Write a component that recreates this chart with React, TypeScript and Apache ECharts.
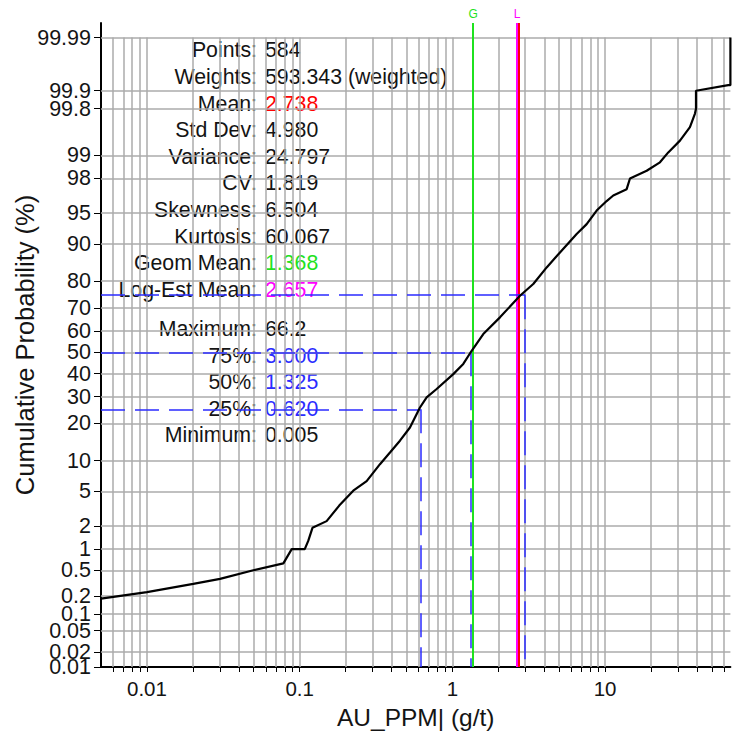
import React, { useEffect, useRef } from 'react';
import * as echarts from 'echarts';

// ---------- data ----------
const curveAu = [
  0.005, 0.01, 0.0201, 0.0301, 0.0497, 0.0782, 0.0887, 0.108, 0.1138, 0.1213, 0.1502,
  0.1816, 0.2244, 0.2746, 0.3357, 0.3903, 0.4537, 0.5277, 0.6135, 0.6786, 0.789, 1.014,
  1.179, 1.338, 1.594, 2.05, 2.772, 3.387, 4.146, 5.067, 6.516, 7.578, 8.81, 10.24, 11.32,
  13.85, 14.56, 18.73, 22.88, 25.94, 30.94, 35.97, 38.8, 39.4, 39.4, 64.1, 66.2, 66.2,
];
const curveProb = [
  0.18, 0.23, 0.31, 0.37, 0.5, 0.63, 1.0, 1.0, 1.29, 1.9, 2.3,
  3.5, 5.1, 6.4, 9.3, 11.8, 14.8, 18.7, 25.7, 29.7, 33.2, 39.8,
  44.5, 50.7, 58.5, 66.0, 74.8, 79.0, 84.2, 88.1, 91.9, 93.5, 95.3, 96.3, 96.8,
  97.3, 98.0, 98.4, 98.76, 99.09, 99.38, 99.61, 99.76, 99.8, 99.9, 99.92, 99.92, 99.99,
];

const yTickProbs = [0.01, 0.02, 0.05, 0.1, 0.2, 0.5, 1, 2, 5, 10, 20, 30, 40, 50, 60, 70, 80, 90, 95, 98, 99, 99.8, 99.9, 99.99];
const yTickLabels = ['0.01', '0.02', '0.05', '0.1', '0.2', '0.5', '1', '2', '5', '10', '20', '30', '40', '50', '60', '70', '80', '90', '95', '98', '99', '99.8', '99.9', '99.99'];
// labels that sit on a second, label-only axis so that overlapping neighbours both stay visible
const yAltLabelProbs = [0.02];
const xTickValues = [0.01, 0.1, 1, 10];
const xTickLabels = ['0.01', '0.1', '1', '10'];
const xMultipliers = [1, 2, 3, 4, 5, 6, 7, 8, 9];
const xDecades = [-3, -2, -1, 0, 1];

const statNames = ['Points:', 'Weights:', 'Mean:', 'Std Dev:', 'Variance:', 'CV:', 'Skewness:', 'Kurtosis:', 'Geom Mean:', 'Log-Est Mean:', 'Maximum:', '75%:', '50%:', '25%:', 'Minimum:'];
const statValues = ['584', '593.343 (weighted)', '2.738', '4.980', '24.797', '1.819', '6.504', '60.067', '1.368', '2.657', '66.2', '3.000', '1.325', '0.620', '0.005'];

const quartileProbs = [75, 50, 25];
const quartileValues = [3.0, 1.325, 0.62];
const geomMean = 1.368;
const logEstMean = 2.657;
const meanValue = 2.738;

const xMin = 0.005;
const xMax = 66.2;
const probMin = 0.01;
const probMax = 99.995;

// ---------- styles ----------
const FONT = '"Liberation Sans", Arial, sans-serif';
const TEXT_COLOR = '#141414';
const GRID_COLOR = '#ababab';
const BLUE = '#2b2bff';
const GREEN = '#1fe21f';
const MAGENTA = '#ff00ff';
const RED = '#ff0000';
const valueColors: Record<string, string> = {
  'Mean:': RED,
  'Geom Mean:': GREEN,
  'Log-Est Mean:': MAGENTA,
  '75%:': BLUE,
  '50%:': BLUE,
  '25%:': BLUE,
};

// inverse normal CDF (Acklam)
function probit(p: number): number {
  const a = [-3.969683028665376e1, 2.209460984245205e2, -2.759285104469687e2, 1.38357751867269e2, -3.066479806614716e1, 2.506628277459239];
  const b = [-5.447609879822406e1, 1.615858368580409e2, -1.556989798598866e2, 6.680131188771972e1, -1.328068155288572e1];
  const c = [-7.784894002430293e-3, -3.223964580411365e-1, -2.400758277161838, -2.549732539343734, 4.374664141464968, 2.938163982698783];
  const d = [7.784695709041462e-3, 3.224671290700398e-1, 2.445134137142996, 3.754408661907416];
  const pl = 0.02425;
  const ph = 1 - pl;
  if (p < pl) {
    const q = Math.sqrt(-2 * Math.log(p));
    return (((((c[0] * q + c[1]) * q + c[2]) * q + c[3]) * q + c[4]) * q + c[5]) / ((((d[0] * q + d[1]) * q + d[2]) * q + d[3]) * q + 1);
  }
  if (p > ph) {
    const q = Math.sqrt(-2 * Math.log(1 - p));
    return -(((((c[0] * q + c[1]) * q + c[2]) * q + c[3]) * q + c[4]) * q + c[5]) / ((((d[0] * q + d[1]) * q + d[2]) * q + d[3]) * q + 1);
  }
  const q = p - 0.5;
  const r = q * q;
  return ((((((a[0] * r + a[1]) * r + a[2]) * r + a[3]) * r + a[4]) * r + a[5]) * q) / (((((b[0] * r + b[1]) * r + b[2]) * r + b[3]) * r + b[4]) * r + 1);
}
const zOf = (pct: number) => probit(pct / 100);
const lx = (v: number) => Math.log10(v);

export default function App() {
  const ref = useRef<HTMLDivElement>(null);

  useEffect(() => {
    if (!ref.current) return;
    const chart = echarts.init(ref.current, undefined, { renderer: 'svg' });

    const X0 = lx(xMin);
    const X1 = lx(xMax);
    const Z0 = zOf(probMin);
    const Z1 = zOf(probMax);
    const zTop = zOf(yTickProbs[yTickProbs.length - 1]);

    const xGrid: number[] = [];
    xDecades.forEach((e) => {
      xMultipliers.forEach((m) => {
        const v = m * Math.pow(10, e);
        if (v > xMin * 1.0001 && v <= xMax) xGrid.push(lx(v));
      });
    });
    const yTicksZ = yTickProbs.map(zOf);
    const yMainLabelZ = yTickProbs.filter((p) => yAltLabelProbs.indexOf(p) < 0).map(zOf);
    const yAltLabelZ = yAltLabelProbs.map(zOf);
    const yFormatter = (v: number) => {
      const i = yTicksZ.findIndex((t) => Math.abs(t - v) < 1e-6);
      return i >= 0 ? yTickLabels[i] : '';
    };

    const gridLines: any[] = [];
    xGrid.forEach((x) => gridLines.push([{ coord: [x, Z0] }, { coord: [x, zTop] }]));
    yTicksZ.slice(1).forEach((z) => gridLines.push([{ coord: [X0, z] }, { coord: [X1, z] }]));

    const dashed: any[] = [];
    quartileProbs.forEach((p, i) => {
      const z = zOf(p);
      const x = lx(quartileValues[i]);
      dashed.push([{ coord: [X0, z] }, { coord: [x, z] }]);
      dashed.push([{ coord: [x, z] }, { coord: [x, Z0] }]);
    });

    const vLine = (v: number, color: string, text: string, z: number) => ({
      type: 'line',
      data: [[X0, Z0]],
      showSymbol: false,
      silent: true,
      z,
      markLine: {
        silent: true,
        symbol: ['none', 'none'],
        lineStyle: { color, width: 2, type: 'solid' },
        label: {
          show: text !== '',
          position: 'end',
          formatter: text,
          color,
          fontSize: 12,
          distance: 3,
          fontFamily: FONT,
        },
        emphasis: { disabled: true },
        data: [[{ coord: [lx(v), Z0] }, { coord: [lx(v), Z1] }]],
      },
    });

    const rowH = 26.6;
    const graphics: any[] = [];
    statNames.forEach((name, i) => {
      const y = 50.3 + i * rowH + (i >= 10 ? rowH * 0.48 : 0);
      graphics.push({
        type: 'text',
        x: 257,
        y,
        z: 2,
        silent: true,
        style: {
          text: name,
          fill: TEXT_COLOR,
          fontSize: 21.3,
          fontFamily: FONT,
          textAlign: 'right',
          textVerticalAlign: 'middle',
          align: 'right',
          verticalAlign: 'middle',
        },
      });
      graphics.push({
        type: 'text',
        x: 265,
        y,
        z: 2,
        silent: true,
        style: {
          text: statValues[i],
          fill: valueColors[name] || TEXT_COLOR,
          fontSize: 21.3,
          fontFamily: FONT,
          textAlign: 'left',
          textVerticalAlign: 'middle',
          align: 'left',
          verticalAlign: 'middle',
        },
      });
    });

    const yLabelStyle = {
      show: true,
      fontSize: 21.5,
      color: TEXT_COLOR,
      margin: 10,
      hideOverlap: false,
      showMinLabel: true,
      showMaxLabel: true,
      formatter: yFormatter,
    };

    const option: any = {
      animation: false,
      backgroundColor: '#ffffff',
      textStyle: { fontFamily: FONT },
      grid: { left: 101, right: 3.6, top: 23, bottom: 69, containLabel: false, outerBoundsMode: 'none' },
      xAxis: {
        type: 'value',
        min: X0,
        max: X1,
        name: 'AU_PPM| (g/t)',
        nameLocation: 'middle',
        nameGap: 38,
        nameMoveOverlap: false,
        nameTextStyle: { fontSize: 24.5, color: TEXT_COLOR, fontFamily: FONT },
        axisLine: { show: true, onZero: false, lineStyle: { color: '#000', width: 2 } },
        axisTick: { show: true, length: 5, lineStyle: { color: '#000', width: 1 }, customValues: xGrid },
        axisLabel: {
          show: true,
          fontSize: 20.5,
          color: TEXT_COLOR,
          margin: 11,
          hideOverlap: false,
          customValues: xTickValues.map(lx),
          formatter: (v: number) => {
            const i = xTickValues.findIndex((t) => Math.abs(lx(t) - v) < 1e-6);
            return i >= 0 ? xTickLabels[i] : '';
          },
        },
        splitLine: { show: false },
      },
      yAxis: [
        {
          type: 'value',
          min: Z0,
          max: Z1,
          position: 'left',
          name: 'Cumulative Probability (%)',
          nameLocation: 'middle',
          nameGap: 63,
          nameMoveOverlap: false,
          nameTextStyle: { fontSize: 25.5, color: TEXT_COLOR, fontFamily: FONT },
          axisLine: { show: true, onZero: false, lineStyle: { color: '#000', width: 2 } },
          axisTick: { show: true, length: 7, lineStyle: { color: '#000', width: 1 }, customValues: yTicksZ },
          axisLabel: { ...yLabelStyle, customValues: yMainLabelZ },
          splitLine: { show: false },
        },
        {
          type: 'value',
          min: Z0,
          max: Z1,
          position: 'left',
          offset: 0,
          axisLine: { show: false },
          axisTick: { show: false },
          axisLabel: { ...yLabelStyle, customValues: yAltLabelZ },
          splitLine: { show: false },
        },
      ],
      graphic: { elements: graphics },
      series: [
        {
          type: 'line',
          data: [[X0, Z0]],
          showSymbol: false,
          silent: true,
          z: 1,
          markLine: {
            silent: true,
            symbol: ['none', 'none'],
            label: { show: false },
            lineStyle: { color: GRID_COLOR, width: 1.5, type: 'solid' },
            emphasis: { disabled: true },
            data: gridLines,
          },
        },
        vLine(geomMean, GREEN, 'G', 3),
        vLine(logEstMean, MAGENTA, 'L', 3),
        vLine(meanValue, RED, '', 3),
        {
          type: 'line',
          data: [[X0, Z0]],
          showSymbol: false,
          silent: true,
          z: 4,
          markLine: {
            silent: true,
            symbol: ['none', 'none'],
            label: { show: false },
            lineStyle: { color: BLUE, width: 1.5, type: [24, 10], opacity: 1 },
            emphasis: { disabled: true },
            data: dashed,
          },
        },
        {
          type: 'line',
          z: 5,
          silent: true,
          showSymbol: false,
          lineStyle: { color: '#000', width: 2.2 },
          data: curveAu.map((v, i) => [lx(v), zOf(curveProb[i])]),
        },
      ],
    };

    chart.setOption(option);
    return () => chart.dispose();
  }, []);

  return <div ref={ref} style={{ position: 'fixed', left: 0, top: 0, width: 734, height: 736 }} />;
}
